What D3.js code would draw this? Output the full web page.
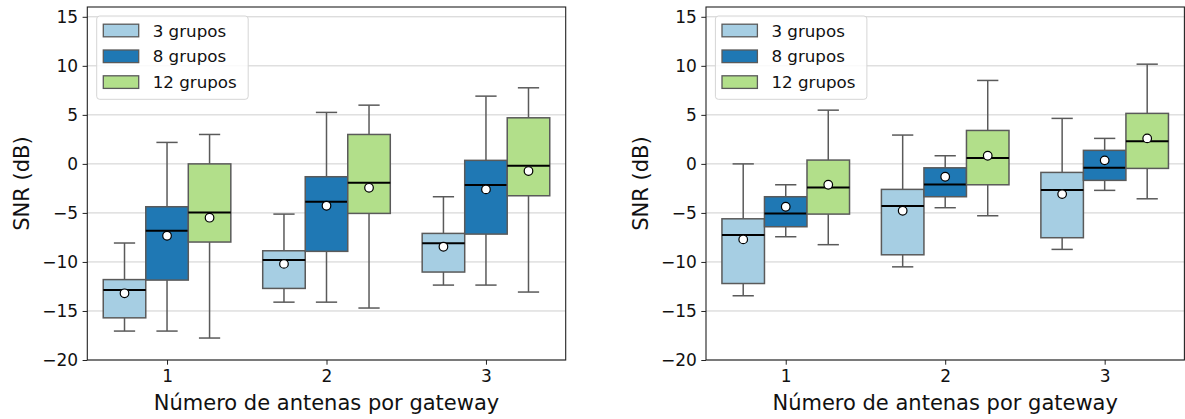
<!DOCTYPE html>
<html>
<head>
<meta charset="utf-8">
<script src="https://cdn.jsdelivr.net/npm/d3@7"></script>
<style>
  html, body { margin: 0; padding: 0; background: #fff; }
  svg { display: block; font-family: "DejaVu Sans", sans-serif; }
</style>
</head>
<body>
<svg id="chart" width="1185" height="419"></svg>
<script>
// ---------- DATA ----------
const categories = ["1", "2", "3"];
const seriesNames = ["3 grupos", "8 grupos", "12 grupos"];
const seriesColors = ["#a6cee3", "#1f78b4", "#b2df8a"];
const yTicks = [-20, -15, -10, -5, 0, 5, 10, 15];
const xLabel = "Número de antenas por gateway";
const yLabel = "SNR (dB)";

// arrays indexed [series][category]
const leftWhiskerLow  = [[-17.05, -14.1, -12.36], [-17.05, -14.1, -12.36], [-17.76, -14.7, -13.07]];
const leftQ1          = [[-15.7, -12.7, -11.03], [-11.85, -8.92, -7.16], [-7.97, -5.05, -3.25]];
const leftMedian      = [[-12.86, -9.81, -8.1], [-6.82, -3.86, -2.16], [-4.95, -1.93, -0.19]];
const leftQ3          = [[-11.8, -8.86, -7.09], [-4.37, -1.31, 0.36], [0.0, 3.0, 4.7]];
const leftWhiskerHigh = [[-8.07, -5.12, -3.35], [2.19, 5.25, 6.91], [3.0, 5.99, 7.76]];
const leftMean        = [[-13.2, -10.2, -8.45], [-7.33, -4.27, -2.6], [-5.49, -2.44, -0.73]];

const rightWhiskerLow  = [[-13.45, -10.5, -8.72], [-7.43, -4.47, -2.7], [-8.24, -5.29, -3.56]];
const rightQ1          = [[-12.2, -9.27, -7.53], [-6.41, -3.35, -1.68], [-5.12, -2.13, -0.46]];
const rightMedian      = [[-7.26, -4.3, -2.67], [-5.05, -2.09, -0.4], [-2.4, 0.59, 2.32]];
const rightQ3          = [[-5.6, -2.6, -0.87], [-3.35, -0.4, 1.38], [0.39, 3.41, 5.15]];
const rightWhiskerHigh = [[0.0, 2.94, 4.64], [-2.13, 0.83, 2.6], [5.48, 8.51, 10.17]];
const rightMean        = [[-7.7, -4.78, -3.08], [-4.37, -1.31, 0.36], [-2.13, 0.83, 2.6]];

// ---------- DRAW ----------
const svg = d3.select("#chart");

function panel(left, stats) {
  const top = 7, bottom = 360, width = 478.4;
  const x = d3.scaleLinear().domain([0.5, 3.5]).range([left, left + width]);
  const y = d3.scaleLinear().domain([-20, 16]).range([bottom, top]);
  const g = svg.append("g");

  // grid
  g.append("g").selectAll("line").data(yTicks).join("line")
    .attr("x1", left).attr("x2", left + width)
    .attr("y1", d => y(d)).attr("y2", d => y(d))
    .attr("stroke", "#cfcfcf").attr("stroke-width", 1);

  const boxW = 0.8 / 3;
  const boxPx = x(boxW) - x(0);
  const boxEdge = "#5a5a5a";

  seriesNames.forEach((name, s) => {
    categories.forEach((cat, c) => {
      const cx = x(+cat + (s - 1) * boxW);
      const st = {
        lo: stats.lo[s][c], q1: stats.q1[s][c], med: stats.med[s][c],
        q3: stats.q3[s][c], hi: stats.hi[s][c], mean: stats.mean[s][c]
      };
      const bg = g.append("g");
      // whiskers
      bg.append("line").attr("x1", cx).attr("x2", cx)
        .attr("y1", y(st.q3)).attr("y2", y(st.hi))
        .attr("stroke", boxEdge).attr("stroke-width", 1.5);
      bg.append("line").attr("x1", cx).attr("x2", cx)
        .attr("y1", y(st.q1)).attr("y2", y(st.lo))
        .attr("stroke", boxEdge).attr("stroke-width", 1.5);
      // caps
      [st.hi, st.lo].forEach(v => {
        bg.append("line").attr("x1", cx - boxPx / 4).attr("x2", cx + boxPx / 4)
          .attr("y1", y(v)).attr("y2", y(v))
          .attr("stroke", boxEdge).attr("stroke-width", 1.5);
      });
      // box
      bg.append("rect")
        .attr("x", cx - boxPx / 2).attr("width", boxPx)
        .attr("y", y(st.q3)).attr("height", y(st.q1) - y(st.q3))
        .attr("fill", seriesColors[s]).attr("stroke", boxEdge).attr("stroke-width", 1.5);
      // median
      bg.append("line").attr("x1", cx - boxPx / 2).attr("x2", cx + boxPx / 2)
        .attr("y1", y(st.med)).attr("y2", y(st.med))
        .attr("stroke", "#000").attr("stroke-width", 2);
      // mean
      bg.append("circle").attr("cx", cx).attr("cy", y(st.mean)).attr("r", 4.3)
        .attr("fill", "#fff").attr("stroke", "#000").attr("stroke-width", 1.2);
    });
  });

  // frame
  g.append("rect").attr("x", left).attr("y", top).attr("width", width).attr("height", bottom - top)
    .attr("fill", "none").attr("stroke", "#222").attr("stroke-width", 1.1);

  // y axis
  const yAxis = d3.axisLeft(y).tickValues(yTicks).tickSize(4.7).tickPadding(4.5)
    .tickFormat(d => d < 0 ? "\u2212" + Math.abs(d) : String(d));
  const ya = g.append("g").attr("transform", `translate(${left},0)`).call(yAxis);
  ya.select(".domain").remove();
  ya.selectAll("line").attr("stroke", "#222");
  ya.selectAll("text").attr("font-size", 17).attr("fill", "#111")
    .attr("font-family", "DejaVu Sans, sans-serif");

  // x axis
  const xAxis = d3.axisBottom(x).tickValues(categories.map(Number)).tickSize(4.7).tickPadding(5)
    .tickFormat(d => String(d));
  const xa = g.append("g").attr("transform", `translate(0,${bottom})`).call(xAxis);
  xa.select(".domain").remove();
  xa.selectAll("line").attr("stroke", "#222");
  xa.selectAll("text").attr("font-size", 17).attr("fill", "#111")
    .attr("font-family", "DejaVu Sans, sans-serif");

  // axis labels
  g.append("text").attr("x", left + width / 2).attr("y", 409.5)
    .attr("text-anchor", "middle").attr("font-size", 21).attr("fill", "#111")
    .text(xLabel);
  g.append("text").attr("transform", `translate(${left - 58.5},${(top + bottom) / 2}) rotate(-90)`)
    .attr("text-anchor", "middle").attr("font-size", 21).attr("fill", "#111")
    .text(yLabel);

  // legend
  const lg = g.append("g").attr("transform", `translate(${left + 9.4},16)`);
  lg.append("rect").attr("x", 0).attr("y", 0).attr("width", 151.5).attr("height", 83.3)
    .attr("rx", 3).attr("fill", "rgba(255,255,255,0.85)").attr("stroke", "#d5d5d5").attr("stroke-width", 1);
  seriesNames.forEach((name, s) => {
    const cy = 14.5 + s * 25.8;
    lg.append("rect").attr("x", 6.6).attr("y", cy - 6.3).attr("width", 35.4).attr("height", 12.6)
      .attr("fill", seriesColors[s]).attr("stroke", boxEdge).attr("stroke-width", 1.3);
    lg.append("text").attr("x", 56).attr("y", cy + 6).attr("font-size", 16.7).attr("fill", "#111")
      .text(name);
  });
}

panel(87.3, { lo: leftWhiskerLow, q1: leftQ1, med: leftMedian, q3: leftQ3, hi: leftWhiskerHigh, mean: leftMean });
panel(706, { lo: rightWhiskerLow, q1: rightQ1, med: rightMedian, q3: rightQ3, hi: rightWhiskerHigh, mean: rightMean });
</script>
</body>
</html>
